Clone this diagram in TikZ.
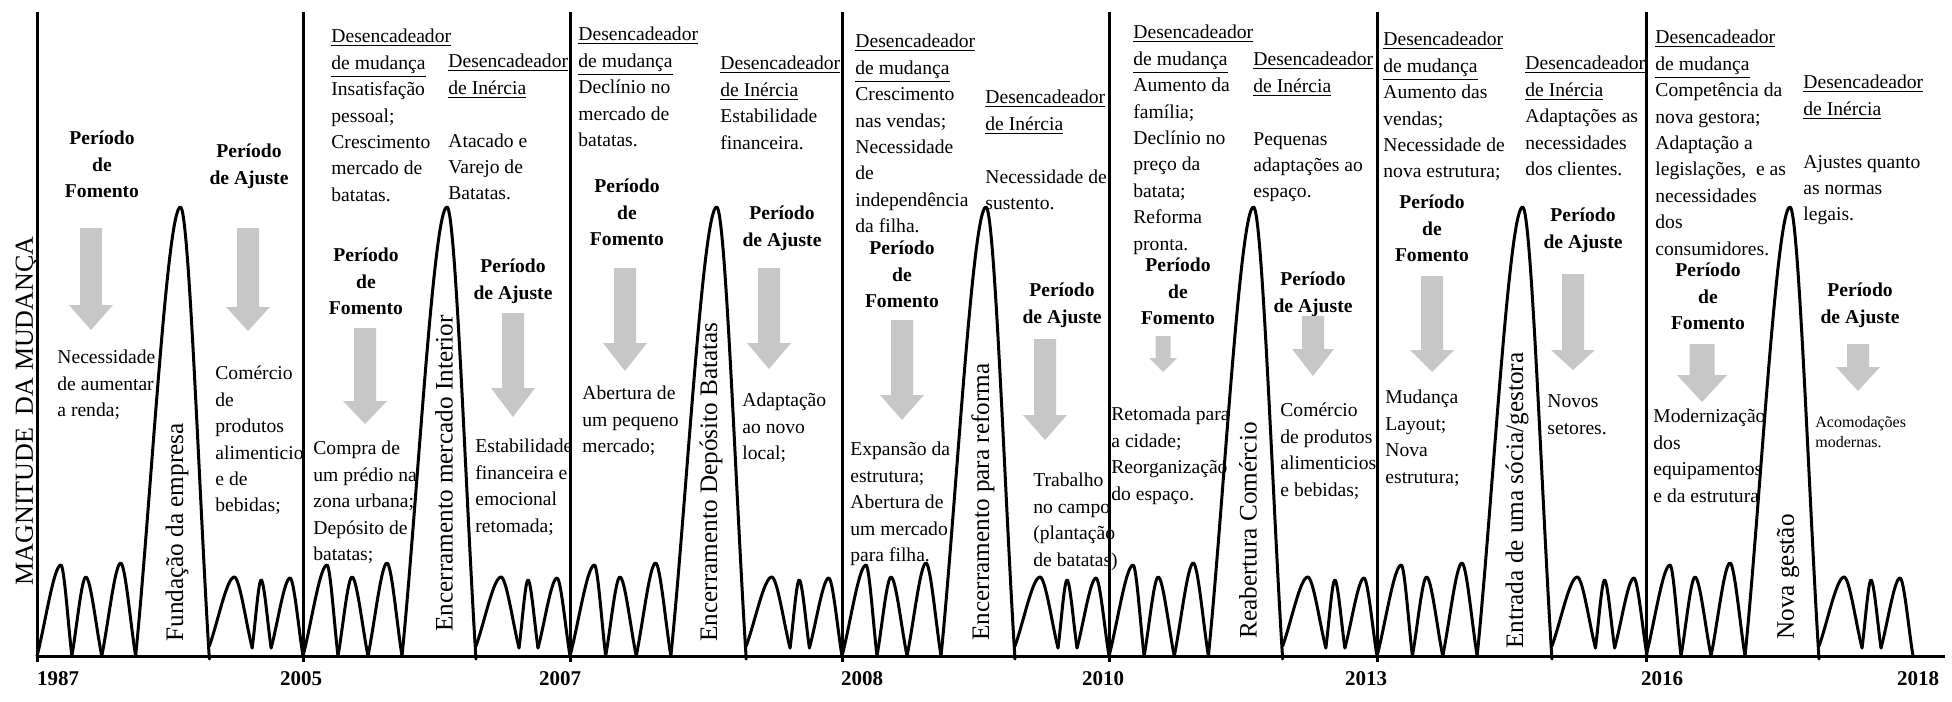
\documentclass[tikz,border=0pt]{standalone}
\usepackage{fontspec}
\setmainfont{Liberation Serif}
\newcommand\fs{\fontsize{9.8}{13.2}\selectfont}
\newcommand\hump[6]{\draw[crv] ({#1},{#2}) .. controls ({#1+0.33*((#3)-(#1))},{#2+0.33*((#4)-(#2))}) and ({#1+0.7*((#3)-(#1))},{#4}) .. ({#3},{#4}) .. controls ({#5+0.7*((#3)-(#5))},{#4}) and ({#5+0.33*((#3)-(#5))},{#6+0.33*((#4)-(#6))}) .. ({#5},{#6});}
\newcommand\garrow[6]{\fill[arr] ({#1-#5/2},#2) -- ({#1+#5/2},#2) -- ({#1+#5/2},#3) -- ({#1+#6/2},#3) -- (#1,#4) -- ({#1-#6/2},#3) -- ({#1-#5/2},#3) -- cycle;}
\begin{document}
\begin{tikzpicture}[x=0.5pt,y=-0.5pt,
  txt/.style={anchor=north west,inner sep=0pt,align=left,font=\fs},
  small/.style={anchor=north west,inner sep=0pt,align=left,font=\fontsize{8}{10}\selectfont},
  hdr/.style={anchor=north,inner sep=0pt,align=center,font=\fs\bfseries},
  rot/.style={rotate=90,anchor=west,inner sep=0pt,font=\fontsize{12.6}{15}\selectfont},
  yr/.style={inner sep=0pt,font=\fontsize{10.5}{12}\selectfont\bfseries},
  crv/.style={line width=1.5pt,line cap=round,line join=round},
  sep/.style={line width=1.5pt},
  arr/.style={fill=black!22}]
\useasboundingbox (0,0) rectangle (1952,701);
% axis
\draw[sep] (37,656) -- (1945,656);
\foreach \x in {37,303,570,842,1109,1377,1646} \draw[sep] (\x,12) -- (\x,662);
% curves
\foreach \s/\w in {37/266,303/267,570/272,842/267,1109/268,1377/270,1646/267}{
  \pgfmathsetmacro\k{\w/267}
  \hump{\s}{656}{\s+24*\k}{565}{\s+35*\k}{656}
  \hump{\s+35*\k}{656}{\s+49*\k}{577}{\s+65*\k}{656}
  \hump{\s+65*\k}{656}{\s+84*\k}{563}{\s+99*\k}{656}
  \hump{\s+99*\k}{656}{\s+144*\k}{207}{\s+173*\k}{659}
  \hump{\s+173*\k}{646}{\s+198*\k}{577}{\s+216*\k}{648}
  \hump{\s+216*\k}{648}{\s+225*\k}{580}{\s+235*\k}{648}
  \hump{\s+235*\k}{648}{\s+254*\k}{578}{\s+267*\k}{656}
}
% y label
\node[rotate=90,inner sep=0pt,font=\fontsize{13}{15}\selectfont] (ylab) at (27,411) {MAGNITUDE\ \ DA MUDANÇA};
% years
\node[yr] (y1987) at (58,679) {1987};
\node[yr] (y2005) at (301,679) {2005};
\node[yr] (y2007) at (560,679) {2007};
\node[yr] (y2008) at (862,679) {2008};
\node[yr] (y2010) at (1103,679) {2010};
\node[yr] (y2013) at (1366,679) {2013};
\node[yr] (y2016) at (1662,679) {2016};
\node[yr] (y2018) at (1918,679) {2018};
% segment 1
\node[hdr] (f1) at (102,126) {\strut Período\\de\\Fomento};
\garrow{91}{228}{305}{330}{22}{44}
\node[txt] (t1) at (57,345) {\strut Necessidade\\de aumentar\\a renda;};
\node[hdr] (a1) at (249,139) {\strut Período\\de Ajuste};
\garrow{248}{228}{307}{331}{22}{44}
\node[txt] (u1) at (215,361) {\strut Comércio\\de\\produtos\\alimenticio\\e de\\bebidas;};
\node[rot] (r1) at (177,642) {Fundação da empresa};
% segment 2
\node[txt] (m2) at (331,24) {\strut\underline{Desencadeador}\\\underline{de mudança}\\Insatisfação\\pessoal;\\Crescimento\\mercado de\\batatas.};
\node[txt] (i2) at (448,49) {\strut\underline{Desencadeador}\\\underline{de Inércia}\\[13.2pt]Atacado e\\Varejo de\\Batatas.};
\node[hdr] (f2) at (366,243) {\strut Período\\de\\Fomento};
\garrow{365}{328}{401}{424}{22}{44}
\node[txt] (t2) at (313,436) {\strut Compra de\\um prédio na\\zona urbana;\\Depósito de\\batatas;};
\node[hdr] (a2) at (513,254) {\strut Período\\de Ajuste};
\garrow{513}{313}{388}{417}{22}{44}
\node[txt] (u2) at (475,434) {\strut Estabilidade\\financeira e\\emocional\\retomada;};
\node[rot] (r2) at (444,632) {Encerramento mercado Interior};
% segment 3
\node[txt] (m3) at (578,22) {\strut\underline{Desencadeador}\\\underline{de mudança}\\Declínio no\\mercado de\\batatas.};
\node[txt] (i3) at (720,51) {\strut\underline{Desencadeador}\\\underline{de Inércia}\\Estabilidade\\financeira.};
\node[hdr] (f3) at (627,174) {\strut Período\\de\\Fomento};
\garrow{625}{268}{343}{371}{22}{44}
\node[txt] (t3) at (582,381) {\strut Abertura de\\um pequeno\\mercado;};
\node[hdr] (a3) at (782,201) {\strut Período\\de Ajuste};
\garrow{769}{268}{343}{369}{22}{44}
\node[txt] (u3) at (742,388) {\strut Adaptação\\ao novo\\local;};
\node[rot] (r3) at (711,642) {Encerramento Depósito Batatas};
% segment 4
\node[txt] (m4) at (855,29) {\strut\underline{Desencadeador}\\\underline{de mudança}\\Crescimento\\nas vendas;\\Necessidade\\de\\independência\\da filha.};
\node[txt] (i4) at (985,85) {\strut\underline{Desencadeador}\\\underline{de Inércia}\\[13.2pt]Necessidade de\\sustento.};
\node[hdr] (f4) at (902,236) {\strut Período\\de\\Fomento};
\garrow{902}{320}{395}{420}{22}{44}
\node[txt] (t4) at (850,437) {\strut Expansão da\\estrutura;\\Abertura de\\um mercado\\para filha.};
\node[hdr] (a4) at (1062,278) {\strut Período\\de Ajuste};
\garrow{1045}{339}{415}{440}{22}{44}
\node[txt] (u4) at (1033,468) {\strut Trabalho\\no campo\\(plantação\\de batatas)};
\node[rot] (r4) at (983,641) {Encerramento para reforma};
% segment 5
\node[txt] (m5) at (1133,20) {\strut\underline{Desencadeador}\\\underline{de mudança}\\Aumento da\\família;\\Declínio no\\preço da\\batata;\\Reforma\\pronta.};
\node[txt] (i5) at (1253,47) {\strut\underline{Desencadeador}\\\underline{de Inércia}\\[13.2pt]Pequenas\\adaptações ao\\espaço.};
\node[hdr] (f5) at (1178,253) {\strut Período\\de\\Fomento};
\garrow{1163}{336}{358}{372}{15}{28}
\node[txt] (t5) at (1111,402) {\strut Retomada para\\a cidade;\\Reorganização\\do espaço.};
\node[hdr] (a5) at (1313,267) {\strut Período\\de Ajuste};
\garrow{1313}{316}{349}{376}{22}{42}
\node[txt] (u5) at (1280,398) {\strut Comércio\\de produtos\\alimenticios\\e bebidas;};
\node[rot] (r5) at (1248,639) {Reabertura Comércio};
% segment 6
\node[txt] (m6) at (1383,27) {\strut\underline{Desencadeador}\\\underline{de mudança}\\Aumento das\\vendas;\\Necessidade de\\nova estrutura;};
\node[txt] (i6) at (1525,51) {\strut\underline{Desencadeador}\\\underline{de Inércia}\\Adaptações as\\necessidades\\dos clientes.};
\node[hdr] (f6) at (1432,190) {\strut Período\\de\\Fomento};
\garrow{1432}{276}{350}{372}{22}{44}
\node[txt] (t6) at (1385,385) {\strut Mudança\\Layout;\\Nova\\estrutura;};
\node[hdr] (a6) at (1583,203) {\strut Período\\de Ajuste};
\garrow{1573}{274}{350}{370}{22}{44}
\node[txt] (u6) at (1547,389) {\strut Novos\\setores.};
\node[rot] (r6) at (1517,649) {Entrada de uma sócia/gestora};
% segment 7
\node[txt] (m7) at (1655,25) {\strut\underline{Desencadeador}\\\underline{de mudança}\\Competência da\\nova gestora;\\Adaptação a\\legislações,\ \ e as\\necessidades\\dos\\consumidores.};
\node[txt] (i7) at (1803,70) {\strut\underline{Desencadeador}\\\underline{de Inércia}\\[13.2pt]Ajustes quanto\\as normas\\legais.};
\node[hdr] (f7) at (1708,258) {\strut Período\\de\\Fomento};
\garrow{1702}{344}{375}{402}{25}{50}
\node[txt] (t7) at (1653,404) {\strut Modernização\\dos\\equipamentos\\e da estrutura};
\node[hdr] (a7) at (1860,278) {\strut Período\\de Ajuste};
\garrow{1858}{344}{367}{391}{22}{44}
\node[small] (u7) at (1815,413) {\strut Acomodações\\modernas.};
\node[rot] (r7) at (1788,640) {Nova gestão};
\end{tikzpicture}
\end{document}
